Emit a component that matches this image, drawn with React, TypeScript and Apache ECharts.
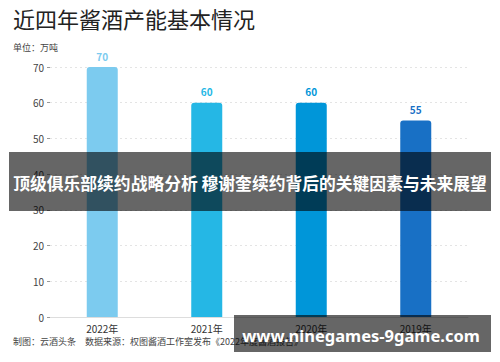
import React, { useEffect, useRef } from "react";
import * as echarts from "echarts";

const categories = ["2022年", "2021年", "2020年", "2019年"];
const values = [70, 60, 60, 55];
const barColors = ["#7ccbef", "#25b7e5", "#0096d9", "#1870c5"];
const title = "近四年酱酒产能基本情况";
const unit = "单位：万吨";
const footer = "制图：云酒头条　数据来源：权图酱酒工作室发布《2022年度酱酒报告》";
const banner = "顶级俱乐部续约战略分析 穆谢奎续约背后的关键因素与未来展望";
const watermark = "www.ninegames-9game.com";

const FONT = "'Noto Sans CJK SC', 'Noto Sans', sans-serif";

export default function App() {
  const ref = useRef<HTMLDivElement>(null);
  useEffect(() => {
    document.body.style.margin = "0";
    if (!ref.current) return;
    const chart = echarts.init(ref.current, null, { renderer: "svg" });
    chart.setOption({
      animation: false,
      backgroundColor: "#ffffff",
      textStyle: { fontFamily: FONT },
      grid: { left: 50, right: 32, top: 67, bottom: 45 },
      xAxis: {
        type: "category",
        data: categories,
        axisLine: { lineStyle: { color: "#dddddd" } },
        axisTick: { show: false },
        axisLabel: { color: "#333", fontSize: 10, margin: 6, fontFamily: FONT },
      },
      yAxis: {
        type: "value",
        min: 0,
        max: 70,
        interval: 10,
        axisLine: { show: false },
        axisTick: { show: true, length: 3, lineStyle: { color: "#999" } },
        axisLabel: { color: "#444", fontSize: 10, margin: 6, fontFamily: FONT },
        splitLine: { lineStyle: { color: "#e4e4e4", type: [2, 3] } },
      },
      series: [
        {
          type: "bar",
          barWidth: 31,
          data: values.map((v, i) => ({
            value: v,
            itemStyle: { color: barColors[i], borderRadius: [3, 3, 0, 0] },
            label: { color: barColors[i] },
          })),
          label: {
            show: true,
            position: "top",
            distance: 6,
            fontSize: 10,
            fontWeight: "bold",
            fontFamily: FONT,
          },
        },
      ],
      graphic: [
        {
          type: "text",
          left: 13,
          top: 7,
          style: { text: title, fontSize: 22, fill: "#222", fontFamily: FONT },
        },
        {
          type: "text",
          left: 13,
          top: 43,
          style: { text: unit, fontSize: 9, fill: "#444", fontFamily: FONT },
        },
        {
          type: "text",
          left: 13,
          top: 337,
          style: { text: footer, fontSize: 9, fill: "#444", fontFamily: FONT },
        },
        {
          type: "rect",
          shape: { x: 9, y: 152, width: 482, height: 59 },
          style: { fill: "rgba(0,0,0,0.6)" },
          z: 100,
        },
        {
          type: "text",
          x: 250,
          y: 183,
          style: {
            text: banner,
            fontSize: 16.8,
            fontWeight: "bold",
            fill: "#ffffff",
            align: "center",
            verticalAlign: "middle",
            fontFamily: FONT,
          },
          z: 101,
        },
        {
          type: "rect",
          shape: { x: 234, y: 315, width: 257, height: 37 },
          style: { fill: "rgba(0,0,0,0.6)" },
          z: 100,
        },
        {
          type: "text",
          x: 361,
          y: 335,
          style: {
            text: watermark,
            fontSize: 16.5,
            fontWeight: "bold",
            fill: "#ffffff",
            align: "center",
            verticalAlign: "middle",
            fontFamily: "'Noto Sans', sans-serif",
          },
          z: 101,
        },
      ],
    });
    return () => chart.dispose();
  }, []);
  return <div ref={ref} style={{ width: 500, height: 362 }} />;
}
